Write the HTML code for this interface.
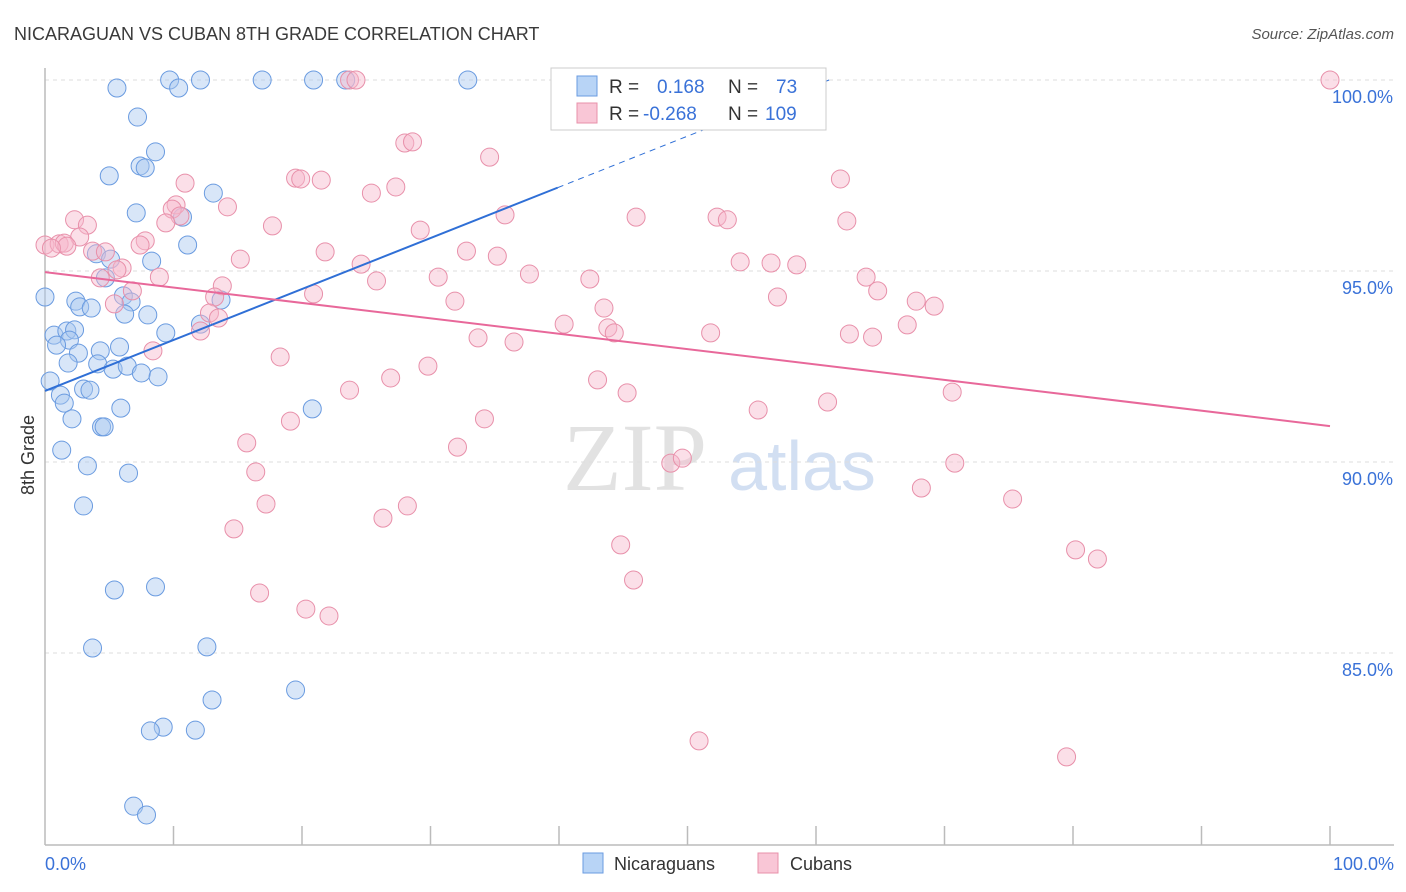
<!DOCTYPE html>
<html><head><meta charset="utf-8">
<style>
body{margin:0;background:#fff;font-family:"Liberation Sans",sans-serif;}
svg{display:block}
</style></head>
<body>
<svg id="chart" width="1406" height="892" xmlns="http://www.w3.org/2000/svg">
<text x="14" y="40" font-size="18" fill="#3a3a3a">NICARAGUAN VS CUBAN 8TH GRADE CORRELATION CHART</text>
<text x="1394" y="39" font-size="15" fill="#555" font-style="italic" text-anchor="end">Source: ZipAtlas.com</text>
<g>
<text x="635" y="490" font-size="96" font-family="Liberation Serif,serif" fill="#dcdcdc" text-anchor="middle" opacity="0.8">ZIP</text>
<text x="802" y="490" font-size="70" fill="#c8d8f0" text-anchor="middle" opacity="0.8">atlas</text>
</g>
<text transform="translate(34,455) rotate(-90)" font-size="18" fill="#333" text-anchor="middle">8th Grade</text>
<g id="grid"></g><g id="axes"></g><g id="pts"></g><g id="lines"></g>
<g>
<rect x="551" y="68" width="275" height="62" fill="#fff" stroke="#ccc"/>
<rect x="577" y="76" width="20" height="20" fill="#b8d4f6" stroke="#6a9be0"/>
<rect x="577" y="103" width="20" height="20" fill="#f9c6d6" stroke="#e890aa"/>
<text x="609" y="93" font-size="19" fill="#333">R = </text><text x="657" y="93" font-size="19" fill="#3a72d8">0.168</text>
<text x="728" y="93" font-size="19" fill="#333">N = </text><text x="776" y="93" font-size="19" fill="#3a72d8">73</text>
<text x="609" y="120" font-size="19" fill="#333">R = </text><text x="643" y="120" font-size="19" fill="#3a72d8">-0.268</text>
<text x="728" y="120" font-size="19" fill="#333">N = </text><text x="765" y="120" font-size="19" fill="#3a72d8">109</text>
</g>
<g>
<rect x="583" y="853" width="20" height="20" fill="#b8d4f6" stroke="#6a9be0"/>
<text x="614" y="870" font-size="18" fill="#333">Nicaraguans</text>
<rect x="758" y="853" width="20" height="20" fill="#f9c6d6" stroke="#e890aa"/>
<text x="790" y="870" font-size="18" fill="#333">Cubans</text>
</g>
</svg>
<script>
const yTicks=[100,95,90,85];
const yTickLabels=["100.0%","95.0%","90.0%","85.0%"];
const xEndLabels=["0.0%","100.0%"];
const nicX=[5.6,9.7,12.1,16.9,20.9,23.4,32.9,10.4,7.2,8.6,7.4,7.8,5.0,13.1,7.1,10.7,11.1,4.0,5.1,8.3,4.7,0,6.1,2.4,6.7,2.7,3.6,6.2,8.0,13.7,12.1,9.4,0.7,1.7,2.3,1.9,0.9,5.8,4.3,2.6,1.8,4.1,5.3,6.4,7.5,8.8,0.4,3.0,3.5,1.2,1.5,5.9,20.8,2.1,4.4,4.6,1.3,3.3,6.5,3.0,5.4,8.6,3.7,12.6,19.5,13.0,9.2,8.2,11.7,6.9,7.9];
const nicY=[99.79,100,100,100,100,100,100,99.79,99.03,98.12,97.75,97.70,97.49,97.04,96.52,96.41,95.68,95.45,95.31,95.26,94.82,94.32,94.35,94.21,94.19,94.06,94.03,93.87,93.85,94.24,93.61,93.38,93.32,93.43,93.46,93.19,93.06,93.01,92.91,92.85,92.59,92.57,92.43,92.51,92.33,92.23,92.12,91.91,91.88,91.75,91.54,91.41,91.39,91.13,90.92,90.92,90.31,89.90,89.71,88.85,86.65,86.73,85.13,85.16,84.03,83.77,83.06,82.96,82.98,80.99,80.76];
const cubX=[100,23.7,24.2,28.0,28.6,34.6,61.9,10.9,19.5,19.9,21.5,27.3,25.4,14.2,10.2,9.9,10.5,2.3,3.3,9.4,17.7,29.2,35.8,46.0,52.3,53.1,62.4,2.7,0,1.1,1.5,1.7,0.5,7.8,7.4,3.7,4.7,21.8,32.8,35.2,15.2,6.0,5.6,24.6,54.1,56.5,58.5,8.9,4.3,37.7,42.4,30.6,25.8,63.9,64.8,13.8,6.8,20.9,57.0,31.9,43.5,67.8,69.2,5.4,13.2,12.8,13.5,12.1,40.4,43.8,44.3,51.8,62.6,64.4,67.1,33.7,36.5,8.4,18.3,29.8,26.9,43.0,45.3,23.7,70.6,60.9,55.5,19.1,34.2,15.7,32.1,48.7,49.6,70.8,16.4,68.2,17.2,28.2,26.3,75.3,14.7,44.8,80.2,81.9,45.8,16.7,20.3,22.1,50.9,79.5];
const cubY=[100,100,100,98.35,98.38,97.98,97.41,97.30,97.43,97.41,97.38,97.20,97.04,96.68,96.73,96.62,96.44,96.34,96.20,96.26,96.18,96.07,96.47,96.41,96.41,96.34,96.31,95.89,95.68,95.71,95.73,95.65,95.60,95.79,95.68,95.52,95.50,95.50,95.52,95.39,95.31,95.08,95.03,95.18,95.24,95.21,95.16,94.84,94.82,94.92,94.79,94.84,94.74,94.84,94.48,94.61,94.48,94.40,94.32,94.21,94.03,94.21,94.08,94.14,94.32,93.90,93.77,93.43,93.61,93.51,93.38,93.38,93.35,93.27,93.59,93.25,93.14,92.91,92.75,92.51,92.20,92.15,91.81,91.88,91.83,91.57,91.36,91.07,91.13,90.50,90.39,89.97,90.10,89.97,89.74,89.32,88.90,88.85,88.53,89.03,88.25,87.83,87.70,87.46,86.91,86.57,86.15,85.97,82.70,82.28];
const nicTrend=[91.86,105.2];
const nicSolidEnd=39.9;
const cubTrend=[94.97,90.94];

const NS="http://www.w3.org/2000/svg";
const sx=v=>45+v*12.85;
const sy=v=>80+(100-v)*38.2;
function mk(tag,attrs,parent){const e=document.createElementNS(NS,tag);for(const k in attrs)e.setAttribute(k,attrs[k]);parent.appendChild(e);return e;}
const grid=document.getElementById('grid'),axes=document.getElementById('axes'),pts=document.getElementById('pts'),lines=document.getElementById('lines');
yTicks.forEach((t,i)=>{
  const l=mk('line',{x1:45,x2:1394,y1:sy(t),y2:sy(t),stroke:'#ddd','stroke-dasharray':'4,4'},grid);
  
  
  const tx=mk('text',{x:1393,y:sy(t)+23,'font-size':18,fill:'#3a72d8','text-anchor':'end'},axes);
  tx.textContent=yTickLabels[i];
  
  
});
const xa=mk('line',{x1:45,x2:1394,y1:845,y2:845,stroke:'#bbb','stroke-width':1.5},axes);


const ya=mk('line',{x1:45,x2:45,y1:68,y2:845,stroke:'#bbb','stroke-width':1.5},axes);


for(let k=1;k<=10;k++){
  const t=mk('line',{x1:sx(k*10),x2:sx(k*10),y1:826,y2:845,stroke:'#bbb','stroke-width':1.5},axes);
  
  
}
const xl0=mk('text',{x:45,y:870,'font-size':18,fill:'#3a72d8'},axes);xl0.textContent=xEndLabels[0];


const xl1=mk('text',{x:1394,y:870,'font-size':18,fill:'#3a72d8','text-anchor':'end'},axes);xl1.textContent=xEndLabels[1];


function dots(X,Y,fill,stroke,name){X.forEach((x,i)=>{
  const c=mk('circle',{cx:sx(x),cy:sy(Y[i]),r:9,fill:fill,'fill-opacity':0.45,stroke:stroke,'stroke-width':1},pts);
  
  
});}
dots(nicX,nicY,'#a8c8f0','#6a9be0','nicaraguan-point');
dots(cubX,cubY,'#f7b8cc','#e890aa','cuban-point');
const nAt=x=>nicTrend[0]+(nicTrend[1]-nicTrend[0])*x/100;
const l1=mk('line',{x1:sx(0),y1:sy(nAt(0)),x2:sx(nicSolidEnd),y2:sy(nAt(nicSolidEnd)),stroke:'#2f6fd6','stroke-width':2},lines);


const yEnd=100;const xEnd=(yEnd-nicTrend[0])/(nicTrend[1]-nicTrend[0])*100;
const l2=mk('line',{x1:sx(nicSolidEnd),y1:sy(nAt(nicSolidEnd)),x2:sx(xEnd),y2:sy(yEnd),stroke:'#2f6fd6','stroke-width':1,'stroke-dasharray':'6,5'},lines);


const l3=mk('line',{x1:sx(0),y1:sy(cubTrend[0]),x2:sx(100),y2:sy(cubTrend[1]),stroke:'#e8689a','stroke-width':2},lines);


</script>
</body></html>
